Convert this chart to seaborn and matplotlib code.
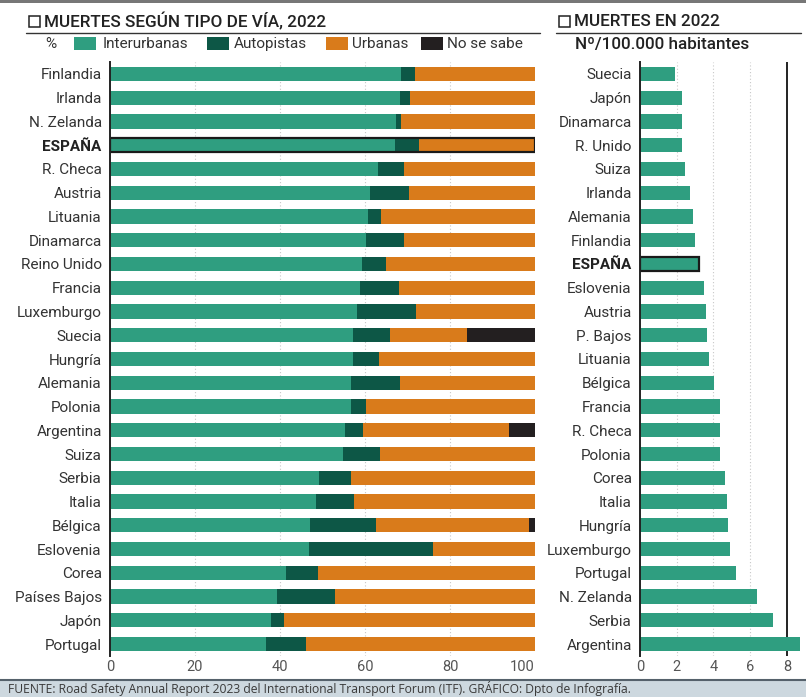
import matplotlib
matplotlib.use("Agg")
import matplotlib.pyplot as plt
import seaborn as sns
import pandas as pd
import numpy as np
from matplotlib.patches import Rectangle
from matplotlib.lines import Line2D

# ---------------- data ----------------
paises = ["Finlandia", "Irlanda", "N. Zelanda", "ESPAÑA", "R. Checa", "Austria",
          "Lituania", "Dinamarca", "Reino Unido", "Francia", "Luxemburgo", "Suecia",
          "Hungría", "Alemania", "Polonia", "Argentina", "Suiza", "Serbia", "Italia",
          "Bélgica", "Eslovenia", "Corea", "Países Bajos", "Japón", "Portugal"]
interurbanas = [68.4, 68.2, 67.2, 67.0, 63.0, 61.1, 60.6, 60.2, 59.3, 58.9, 58.1, 57.1,
                57.1, 56.8, 56.7, 55.2, 54.9, 49.2, 48.4, 47.0, 46.8, 41.3, 39.4, 37.8, 36.7]
autopistas = [3.3, 2.4, 1.2, 5.6, 6.2, 9.2, 3.2, 9.0, 5.7, 9.1, 13.8, 8.7,
              6.3, 11.4, 3.5, 4.3, 8.7, 7.6, 9.1, 15.6, 29.3, 7.7, 13.5, 3.1, 9.3]
urbanas = [28.3, 29.4, 31.6, 27.4, 30.8, 29.7, 36.2, 30.8, 35.0, 32.0, 28.1, 18.2,
           36.6, 31.8, 39.8, 34.4, 36.4, 43.2, 42.5, 36.0, 23.9, 51.0, 47.1, 59.1, 54.0]
no_se_sabe = [0, 0, 0, 0, 0, 0, 0, 0, 0, 0, 0, 16.0,
              0, 0, 0, 6.1, 0, 0, 0, 1.4, 0, 0, 0, 0, 0]

paises_tasa = ["Suecia", "Japón", "Dinamarca", "R. Unido", "Suiza", "Irlanda", "Alemania",
               "Finlandia", "ESPAÑA", "Eslovenia", "Austria", "P. Bajos", "Lituania",
               "Bélgica", "Francia", "R. Checa", "Polonia", "Corea", "Italia", "Hungría",
               "Luxemburgo", "Portugal", "N. Zelanda", "Serbia", "Argentina"]
tasa = [1.93, 2.27, 2.27, 2.29, 2.44, 2.71, 2.87, 2.98, 3.24, 3.49, 3.58, 3.65, 3.75,
        4.02, 4.38, 4.38, 4.36, 4.62, 4.73, 4.80, 4.91, 5.24, 6.36, 7.24, 8.73]

series_names = ["Interurbanas", "Autopistas", "Urbanas", "No se sabe"]
colors = ["#2f9e80", "#0d5746", "#d97b1b", "#231f20"]

# ---------------- style ----------------
sns.set_theme(style="white")
plt.rcParams["font.family"] = ["Roboto", "DejaVu Sans"]

W, H = 806, 697
fig = plt.figure(figsize=(W / 100, H / 100), dpi=100)
fig.patch.set_facecolor("white")

def fx(px):
    return px / W

def fy(py):
    return 1 - py / H

top_px, bot_px = 62, 656
axL = fig.add_axes([fx(110), fy(bot_px), fx(535 - 110), (bot_px - top_px) / H])
axR = fig.add_axes([fx(640), fy(bot_px), fx(801 - 640), (bot_px - top_px) / H])

df = pd.DataFrame({"pais": paises, "Interurbanas": interurbanas,
                   "Autopistas": autopistas, "Urbanas": urbanas, "No se sabe": no_se_sabe})
cum = df[series_names].cumsum(axis=1)

bar_h = 0.6
for name, col in reversed(list(zip(series_names, colors))):
    sns.barplot(x=cum[name], y=df["pais"], order=paises, color=col, width=bar_h,
                orient="h", ax=axL, saturation=1, edgecolor="none", linewidth=0)

i_es = paises.index("ESPAÑA")
axL.add_patch(Rectangle((0, i_es - bar_h / 2), cum["No se sabe"][i_es], bar_h,
                        fill=False, edgecolor="#1a1a1a", linewidth=1.6, zorder=5))

axL.set_xlim(0, 100)
axL.set_ylim(len(paises) - 0.5, -0.5)
axL.set_xticks([0, 20, 40, 60, 80, 100])
axL.set_xlabel("")
axL.set_ylabel("")
for x in [20, 40, 60, 80]:
    axL.axvline(x, color="#c8c8c8", linewidth=0.8, linestyle=(0, (1, 2)), zorder=0)

dfr = pd.DataFrame({"pais": paises_tasa, "tasa": tasa})
sns.barplot(data=dfr, x="tasa", y="pais", order=paises_tasa, color=colors[0],
            width=bar_h, orient="h", ax=axR, saturation=1, edgecolor="none", linewidth=0)
j_es = paises_tasa.index("ESPAÑA")
axR.add_patch(Rectangle((0, j_es - bar_h / 2), tasa[j_es], bar_h,
                        fill=False, edgecolor="#1a1a1a", linewidth=1.6, zorder=5))
axR.set_xlim(0, 8.77)
axR.set_ylim(len(paises_tasa) - 0.5, -0.5)
axR.set_xticks([0, 2, 4, 6, 8])
axR.set_xlabel("")
axR.set_ylabel("")
for x in [2, 4, 6]:
    axR.axvline(x, color="#c8c8c8", linewidth=0.8, linestyle=(0, (1, 2)), zorder=0)
axR.axvline(8, color="#222222", linewidth=1.4, zorder=0)

for ax in (axL, axR):
    ax.set_facecolor("none")
    for s in ["top", "right", "bottom"]:
        ax.spines[s].set_visible(False)
    ax.spines["left"].set_color("#222222")
    ax.spines["left"].set_linewidth(1.4)
    ax.spines["left"].set_zorder(6)
    ax.tick_params(axis="both", length=0)
    ax.tick_params(axis="y", labelsize=11, labelcolor="#333333", pad=6)
    ax.tick_params(axis="x", labelsize=10.5, labelcolor="#555555", pad=3)
    for lab in ax.get_yticklabels():
        if lab.get_text() == "ESPAÑA":
            lab.set_fontweight("bold")
            lab.set_color("#222222")

axL.get_xticklabels()[-1].set_horizontalalignment("right")

# ---------------- header ----------------
fig.patches.append(Rectangle((0, fy(3)), 1, fy(0) - fy(3), transform=fig.transFigure,
                             facecolor="#777777", edgecolor="none"))
for x0 in (29, 559):
    fig.patches.append(Rectangle((fx(x0), fy(27)), fx(11), 11 / H, transform=fig.transFigure,
                                 facecolor="white", edgecolor="#222222", linewidth=1.1))
fig.text(fx(44), fy(21), "MUERTES SEGÚN TIPO DE VÍA, 2022", fontsize=12.3,
         fontweight="medium", color="#222222", va="center", ha="left")
fig.text(fx(574), fy(21), "MUERTES EN 2022", fontsize=12.3,
         fontweight="medium", color="#222222", va="center", ha="left")
fig.add_artist(Line2D([fx(26), fx(540)], [fy(33), fy(33)], color="#333333", linewidth=1.0))
fig.add_artist(Line2D([fx(556), fx(801)], [fy(33), fy(33)], color="#333333", linewidth=1.0))
fig.text(fx(575), fy(44), "Nº/100.000 habitantes", fontsize=12.3,
         fontweight="medium", color="#222222", va="center", ha="left")

# legend row
fig.text(fx(45), fy(44), "%", fontsize=11, color="#333333", va="center", ha="left")
leg_items = [(74, 103), (207, 234), (326, 352), (421, 447)]
for (px0, tx0), name, col in zip(leg_items, series_names, colors):
    fig.patches.append(Rectangle((fx(px0), fy(50)), fx(22), 13 / H, transform=fig.transFigure,
                                 facecolor=col, edgecolor="none"))
    fig.text(fx(tx0), fy(44), name, fontsize=11, color="#333333", va="center", ha="left")

# ---------------- footer ----------------
fig.patches.append(Rectangle((0, 0), 1, fy(680), transform=fig.transFigure,
                             facecolor="#cdd8df", edgecolor="none"))
fig.add_artist(Line2D([0, 1], [fy(680), fy(680)], color="#55616b", linewidth=1.5))
fig.text(fx(8), fy(689), "FUENTE: Road Safety Annual Report 2023 del International Transport "
         "Forum (ITF). GRÁFICO: Dpto de Infografía.", fontsize=8.7, color="#3a3a3a",
         family=["Open Sans", "DejaVu Sans"], va="center", ha="left")

fig.savefig("out.png", dpi=100)
